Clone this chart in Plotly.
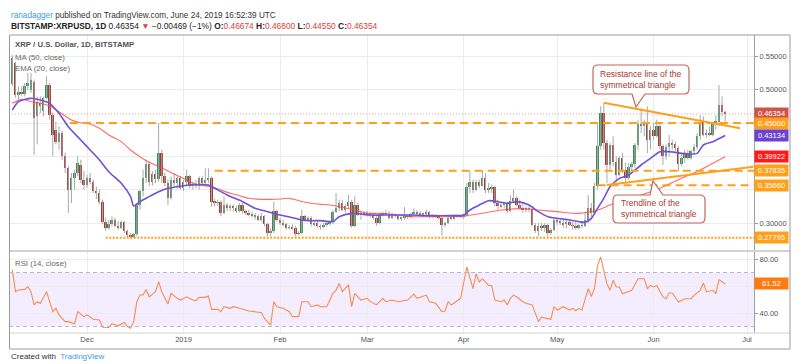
import plotly.graph_objects as go
import pandas as pd

# ---------------- data: BITSTAMP XRPUSD daily, 2018-11-07 .. 2019-06-24 ----------------
START_DATE = "2018-11-07"

opens = [
    # Nov
    .508, .540, .492, .497, .494, .505, .500, .512, .460, .480, .468, .487, .507, .462, .440, .422, .435, .400, .382, .350, .367, .375, .387, .365,
    # Dec
    .357, .367, .362, .348, .345, .332, .302, .293, .298, .305, .296, .293, .302, .288, .282, .2795, .283, .327, .348, .367, .388, .362, .373, .366, .405, .370, .360, .337, .365, .360, .367,
    # Jan
    .352, .362, .370, .355, .358, .355, .367, .360, .365, .367, .332, .330, .331, .315, .327, .322, .325, .322, .318, .327, .318, .315, .313, .310, .310, .305, .310, .298, .285, .288, .318,
    # Feb
    .304, .300, .298, .293, .294, .292, .284, .285, .310, .305, .308, .298, .300, .295, .294, .297, .299, .302, .317, .322, .330, .320, .326, .332, .296, .327, .312, .315,
    # Mar
    .313, .314, .312, .308, .300, .313, .315, .314, .308, .312, .311, .306, .308, .310, .309, .313, .317, .314, .312, .314, .316, .310, .311, .310, .307, .297, .300, .308, .306, .311, .310,
    # Apr
    .309, .312, .354, .362, .350, .361, .356, .368, .350, .352, .354, .330, .325, .327, .329, .318, .333, .337, .327, .322, .320, .322, .321, .297, .288, .295, .292, .297, .285, .290,
    # May
    .304, .302, .300, .298, .301, .297, .296, .293, .297, .296, .305, .322, .315, .355, .415, .465, .420, .387, .417, .392, .372, .397, .380, .367, .384, .388, .417, .449, .445, .450, .425,
    # Jun
    .440, .430, .445, .415, .400, .414, .420, .418, .412, .388, .398, .404, .398, .408, .414, .430, .452, .432, .435, .432, .450, .452, .477, .46674,
]
highs = [
    .552, .542, .505, .505, .510, .525, .525, .515, .490, .490, .490, .520, .510, .466, .452, .445, .438, .405, .385, .375, .380, .400, .395, .378,
    .372, .375, .365, .355, .350, .335, .308, .305, .310, .308, .303, .304, .303, .290, .285, .285, .330, .350, .380, .395, .392, .378, .380, .450, .410, .375, .365, .370, .375, .370, .370,
    .365, .380, .372, .362, .365, .370, .370, .382, .382, .370, .336, .335, .334, .340, .330, .328, .328, .326, .330, .330, .320, .320, .317, .315, .313, .315, .312, .300, .292, .332, .320,
    .308, .305, .300, .297, .298, .295, .288, .320, .312, .310, .310, .303, .304, .298, .300, .302, .304, .320, .345, .335, .335, .328, .342, .335, .340, .330, .318, .318,
    .318, .316, .315, .310, .315, .317, .320, .318, .315, .314, .312, .310, .324, .313, .315, .322, .319, .318, .316, .320, .318, .313, .313, .312, .309, .302, .310, .310, .313, .313, .312,
    .314, .360, .378, .365, .365, .365, .378, .375, .360, .358, .356, .335, .330, .332, .332, .342, .350, .340, .335, .330, .325, .326, .325, .300, .300, .300, .300, .299, .292, .307,
    .308, .306, .305, .303, .303, .302, .302, .298, .300, .317, .342, .330, .360, .450, .475, .480, .425, .420, .430, .400, .400, .405, .390, .390, .392, .420, .455, .472, .455, .475, .445,
    .450, .455, .450, .418, .418, .432, .425, .422, .415, .405, .410, .410, .410, .418, .435, .462, .460, .440, .445, .452, .462, .507, .490, .468,
]
lows = [
    .505, .488, .485, .490, .490, .500, .495, .402, .418, .465, .460, .485, .455, .400, .418, .410, .395, .375, .315, .330, .350, .370, .360, .350,
    .353, .358, .345, .336, .328, .298, .288, .290, .295, .294, .290, .291, .285, .278, .2775, .278, .280, .320, .340, .360, .355, .356, .360, .362, .360, .355, .327, .335, .355, .355, .350,
    .348, .355, .352, .350, .352, .350, .358, .357, .360, .325, .325, .326, .310, .313, .318, .318, .317, .315, .316, .314, .312, .310, .308, .305, .303, .302, .295, .280, .280, .285, .302,
    .297, .295, .290, .290, .290, .280, .281, .283, .302, .302, .295, .295, .293, .290, .292, .295, .296, .298, .315, .318, .318, .316, .322, .293, .294, .310, .305, .310,
    .310, .308, .305, .296, .298, .310, .312, .305, .306, .308, .304, .303, .305, .306, .307, .311, .312, .310, .309, .312, .307, .308, .308, .305, .281, .294, .298, .304, .305, .308, .307,
    .306, .309, .345, .345, .348, .352, .355, .345, .345, .345, .325, .320, .322, .322, .315, .316, .330, .325, .320, .315, .316, .316, .295, .285, .280, .288, .287, .280, .282, .288,
    .297, .297, .293, .292, .295, .290, .290, .290, .292, .294, .300, .305, .312, .350, .410, .410, .360, .380, .385, .362, .370, .375, .362, .365, .378, .383, .410, .435, .430, .405, .410,
    .425, .428, .410, .387, .395, .400, .410, .408, .378, .385, .390, .395, .395, .402, .410, .425, .430, .428, .430, .430, .440, .445, .460, .4455,
]
closes = [
    .548, .492, .497, .494, .505, .510, .515, .457, .482, .475, .487, .507, .462, .432, .422, .435, .400, .382, .350, .367, .375, .390, .365, .357,
    .367, .362, .348, .345, .332, .302, .293, .298, .305, .296, .293, .302, .288, .282, .2795, .283, .327, .348, .367, .388, .362, .373, .366, .405, .370, .360, .337, .365, .360, .367, .352,
    .362, .370, .355, .358, .355, .367, .360, .365, .367, .332, .330, .331, .315, .327, .322, .325, .322, .318, .327, .318, .315, .313, .310, .310, .305, .310, .298, .285, .288, .318, .304,
    .300, .298, .293, .294, .292, .284, .285, .310, .305, .308, .298, .300, .295, .294, .297, .299, .302, .317, .322, .330, .320, .326, .332, .296, .327, .312, .315, .313,
    .314, .312, .308, .300, .313, .315, .314, .308, .312, .311, .306, .308, .310, .309, .313, .317, .314, .312, .314, .316, .310, .311, .310, .307, .297, .300, .308, .306, .311, .310, .309,
    .312, .354, .362, .350, .361, .356, .368, .350, .352, .354, .330, .325, .327, .329, .318, .333, .337, .327, .322, .320, .322, .321, .297, .288, .295, .292, .297, .285, .290, .304,
    .302, .300, .298, .301, .297, .296, .293, .297, .296, .305, .322, .315, .355, .415, .465, .420, .387, .417, .392, .372, .397, .380, .367, .384, .388, .417, .449, .445, .450, .425, .440,
    .430, .445, .415, .400, .414, .420, .418, .412, .388, .398, .404, .398, .408, .414, .430, .452, .432, .435, .432, .450, .452, .477, .46674, .46354,
]

# MA(50) and EMA(20) (candle index -> value)
ma_idx = [0, 3, 6, 9, 12, 15, 19, 22, 25, 28, 31, 35, 38, 41, 44, 47, 50, 54, 57, 60, 64, 67, 70, 73, 76, 80, 83, 86, 89, 92,
          96, 99, 102, 105, 109, 112, 115, 118, 121, 125, 128, 134, 141, 145, 151, 157, 163, 169, 175, 182, 188, 192, 195, 202, 208, 215, 221, 225, 229]
ma_val = [.4795, .4855, .482, .4795, .4755, .467, .4545, .4505, .4485, .442, .432, .422, .4095, .3995, .391, .385, .378, .369, .362, .357,
          .3545, .3495, .3445, .341, .337, .3355, .3355, .336, .337, .3335, .3295, .328, .327, .3245, .3205, .317, .3145, .3145, .3135, .312,
          .3095, .3095, .3095, .3105, .3145, .3195, .3215, .3195, .317, .3145, .3195, .327, .332, .342, .352, .367, .3795, .3895, .39922]
ema_idx = [0, 2, 6, 9, 12, 15, 18, 22, 25, 28, 31, 35, 38, 39, 41, 44, 47, 50, 53, 57, 63, 65, 69, 74, 78, 82, 86, 90, 93, 96,
           99, 103, 105, 109, 112, 115, 121, 128, 134, 141, 145, 147, 150, 153, 156, 159, 162, 166, 169, 172, 175, 179, 182, 184, 186, 188, 190, 192, 195, 198,
           202, 205, 208, 211, 215, 218, 220, 222, 225, 229]
ema_val = [.4695, .482, .487, .4845, .4795, .4645, .4445, .4245, .4095, .3945, .377, .3595, .3395, .3255, .332, .3395, .347, .352, .3545, .357,
           .357, .352, .342, .332, .322, .317, .312, .308, .3045, .3035, .3035, .302, .3095, .3145, .3135, .312, .312, .312, .311, .311,
           .312, .3195, .327, .3335, .332, .3295, .332, .327, .317, .3095, .307, .3045, .302, .301, .307, .322, .337, .3545, .367, .372,
           .387, .397, .407, .407, .4045, .4035, .4045, .417, .422, .43134]

# RSI(14) (candle index -> value)
rsi_idx = [0, 1, 2, 4, 5, 6, 7, 8, 9, 11, 12, 13, 14, 15, 17, 18, 20, 21, 23, 24, 26, 28, 29, 31, 32, 34, 36, 37, 38, 39,
           40, 41, 42, 43, 44, 46, 47, 48, 50, 51, 53, 54, 56, 58, 59, 60, 62, 63, 64, 66, 67, 68, 70, 71, 73, 75, 76, 78, 80, 81,
           83, 84, 85, 87, 89, 90, 92, 93, 95, 96, 98, 99, 101, 103, 104, 105, 106, 108, 109, 110, 112, 114, 115, 117, 119, 120, 122, 124, 127, 129,
           130, 133, 134, 136, 138, 139, 140, 141, 143, 144, 146, 147, 148, 149, 150, 151, 153, 154, 155, 157, 158, 159, 160, 161, 162, 164, 165, 167, 168, 169,
           170, 172, 173, 174, 175, 177, 178, 179, 180, 181, 182, 183, 185, 186, 187, 188, 189, 190, 191, 192, 193, 194, 195, 196, 198, 199, 201, 203, 204, 205,
           206, 207, 209, 210, 211, 212, 214, 215, 216, 218, 219, 221, 222, 223, 225, 226, 227, 229]
rsi_val = [71.9, 55.8, 57, 57.5, 59.5, 55.8, 46, 48.4, 47, 55.8, 48.4, 41, 43.5, 38.6, 33.6, 33.6, 32, 41, 37.3, 38.6,
           35.4, 34.9, 29.5, 29.3, 32, 30.5, 33, 30, 28.8, 33.6, 48.4, 53.3, 53.3, 57.5, 52, 55.8, 63.2, 55.8, 46.7, 54.6,
           50.9, 49.6, 52, 49.6, 49.1, 51.6, 51.6, 52.6, 42.7, 42.7, 41, 44.7, 43.5, 44.7, 43.5, 42.2, 41.5, 41, 40.2, 36,
           31.1, 48.4, 44.7, 43.5, 41, 37.3, 37.3, 48.4, 48.4, 44.7, 46, 44.7, 44.7, 54.6, 57, 62, 55.8, 60.8, 44.7, 54.6,
           49.6, 50.9, 48.4, 46, 50.9, 48.4, 49.6, 48.4, 49.6, 54, 50.9, 53.3, 48.4, 47.2, 41, 41.5, 48.4, 46, 49.6, 50.9,
           74.1, 65.4, 58, 69.1, 63, 65.4, 60.4, 60.4, 49.6, 48.4, 49.6, 46, 50.9, 53.3, 52, 48.4, 47.2, 46, 39.8, 33.6,
           36.9, 35.6, 35.4, 44.7, 42.2, 44.7, 43.5, 42.2, 43.5, 41.7, 43.5, 42.2, 58, 52.3, 58, 75.3, 81.5, 71.6, 61.7, 56.8,
           64.2, 59.3, 59.3, 54.3, 55.6, 56.8, 65.4, 65.4, 58, 60.4, 59.3, 60.4, 51.9, 50.6, 54.8, 54.8, 48.1, 49.4, 50.6, 50.6,
           53.1, 56.8, 62.2, 55.6, 56.8, 54.3, 64.7, 61.52]

# horizontal levels and their start dates
level_prices = [0.45000, 0.37835, 0.35660, 0.27795]
level_starts = ["2018-11-25 12:00", "2019-01-11", "2019-05-14", "2018-12-07"]
last_price = 0.46354
ema_last, ma_last, rsi_last = 0.43134, 0.39922, 61.52

# triangle lines (date, price)
resist_line = [("2019-05-16", 0.4805), ("2019-06-28 19:00", 0.4420)]
support_line = [("2019-05-17", 0.3570), ("2019-07-03 02:00", 0.3845)]

month_ticks = ["2018-12-01", "2019-01-01", "2019-02-01", "2019-03-01", "2019-04-01", "2019-05-01", "2019-06-01", "2019-07-01"]
month_labels = ["Dec", "2019", "Feb", "Mar", "Apr", "May", "Jun", "Jul"]
price_ticks = [0.30, 0.35, 0.40, 0.45, 0.50, 0.55]
price_tick_text = ["0.30000", "", "", "", "0.50000", "0.55000"]   # others sit under the coloured labels
rsi_ticks = [40, 60, 80]
rsi_tick_text = ["40.00", "", "80.00"]

# ---------------- styling ----------------
FONT = "Liberation Sans, Arial, sans-serif"
UP, DOWN, WICK = "#3f8c5b", "#a53a30", "#a9a9a9"
ORANGE = "#ff9f1a"
GRID = "#ececec"
X_RANGE = ["2018-11-05 22:30", "2019-07-03 06:00"]

# pixel layout of the plot area (for paper-coordinate decorations)
PL, PR, PT, PB = 9, 754, 35, 333
def px(x):
    return (x - PL) / (PR - PL)
def py(y):
    return (PB - y) / (PB - PT)

n = min(len(opens), len(highs), len(lows), len(closes))
dates = pd.date_range(START_DATE, periods=n, freq="D")

fig = go.Figure()

# wicks
wx, wy = [], []
for i in range(n):
    wx += [dates[i], dates[i], None]
    wy += [lows[i], highs[i], None]
fig.add_trace(go.Scatter(x=wx, y=wy, mode="lines", line=dict(color=WICK, width=1),
                         xaxis="x2", yaxis="y", hoverinfo="skip", showlegend=False))

# bodies
base = [min(opens[i], closes[i]) for i in range(n)]
height = [max(abs(closes[i] - opens[i]), 0.0007) for i in range(n)]
cols = [UP if closes[i] >= opens[i] else DOWN for i in range(n)]
fig.add_trace(go.Bar(x=dates, y=height, base=base, width=0.62 * 86400000,
                     marker=dict(color=cols, line=dict(width=0)),
                     xaxis="x2", yaxis="y", showlegend=False, hoverinfo="skip"))

# MA / EMA
fig.add_trace(go.Scatter(x=[dates[i] for i in ma_idx], y=ma_val, mode="lines",
                         line=dict(color="rgba(255,70,70,0.8)", width=1.1, shape="spline", smoothing=0.7),
                         xaxis="x2", yaxis="y", showlegend=False))
fig.add_trace(go.Scatter(x=[dates[i] for i in ema_idx], y=ema_val, mode="lines",
                         line=dict(color="#7052d8", width=1.6, shape="spline", smoothing=0.7),
                         xaxis="x2", yaxis="y", showlegend=False))

# RSI
fig.add_trace(go.Scatter(x=[dates[i] for i in rsi_idx], y=rsi_val, mode="lines",
                         line=dict(color="#f88c52", width=1.1),
                         xaxis="x", yaxis="y2", showlegend=False))

shapes = []
# RSI band
shapes.append(dict(type="rect", xref="x domain", yref="y2", x0=0, x1=1, y0=30, y1=70,
                   fillcolor="rgba(150,80,255,0.10)", line=dict(width=0), layer="below"))
for lvl in (30, 70):
    shapes.append(dict(type="line", xref="x domain", yref="y2", x0=0, x1=1, y0=lvl, y1=lvl,
                       line=dict(color="#b9b6c6", width=1, dash="4px,3px")))
# last price dotted line
shapes.append(dict(type="line", xref="x domain", yref="y", x0=0, x1=1, y0=last_price, y1=last_price,
                   line=dict(color="rgba(220,90,80,0.55)", width=1, dash="1px,2px")))
# horizontal support/resistance levels
for p, s in zip(level_prices, level_starts):
    dash = "2px,1.5px" if p < 0.28 else "8px,5px"
    shapes.append(dict(type="line", xref="x", yref="y", x0=s, x1=X_RANGE[1], y0=p, y1=p,
                       line=dict(color=ORANGE, width=2, dash=dash)))
# triangle lines
for ln in (resist_line, support_line):
    shapes.append(dict(type="line", xref="x", yref="y", x0=ln[0][0], y0=ln[0][1], x1=ln[1][0], y1=ln[1][1],
                       line=dict(color=ORANGE, width=2)))

# callout bubbles (pixel geometry -> paper)
def bubble(x0, y0, x1, y1, tail, r=5):
    tb0, tb1, tx, ty, side = tail
    def P(x, y):
        return f"{px(x):.5f},{py(y):.5f}"
    d = f"M {P(x0 + r, y0)} "
    if side == "top":
        d += f"L {P(tb0, y0)} L {P(tx, ty)} L {P(tb1, y0)} "
    d += f"L {P(x1 - r, y0)} Q {P(x1, y0)} {P(x1, y0 + r)} L {P(x1, y1 - r)} Q {P(x1, y1)} {P(x1 - r, y1)} "
    if side == "bottom":
        d += f"L {P(tb1, y1)} L {P(tx, ty)} L {P(tb0, y1)} "
    d += f"L {P(x0 + r, y1)} Q {P(x0, y1)} {P(x0, y1 - r)} L {P(x0, y0 + r)} Q {P(x0, y0)} {P(x0 + r, y0)} Z"
    return dict(type="path", xref="paper", yref="paper", path=d,
                fillcolor="white", line=dict(color="#c5655c", width=1.2), layer="above")

shapes.append(bubble(593, 65, 689, 94, (632, 645, 636, 107, "bottom")))
shapes.append(bubble(613, 195, 705, 223, (650, 663, 653, 181, "top")))

# pane separator, borders
shapes.append(dict(type="line", xref="paper", yref="paper", x0=0, x1=px(790), y0=py(251), y1=py(251),
                   line=dict(color="#d2d2d2", width=2)))
shapes.append(dict(type="line", xref="paper", yref="paper", x0=0, x1=px(790), y0=0, y1=0,
                   line=dict(color="#d2d2d2", width=1)))
shapes.append(dict(type="rect", xref="paper", yref="paper", x0=px(9.5), x1=px(790), y0=py(349), y1=py(35),
                   line=dict(color="#9a9a9a", width=1), fillcolor="rgba(0,0,0,0)"))

ann = []
def text(x, y, t, size=8, color="#333", anchor="left", **kw):
    ann.append(dict(xref="paper", yref="paper", x=px(x), y=py(y), text=t, showarrow=False,
                    xanchor=anchor, yanchor="middle", font=dict(family=FONT, size=size, color=color), **kw))

RED = "#e0403a"
text(9, 15, "<span style='color:#3d9be9'>ranadagger</span> published on TradingView.com, June 24, 2019 16:52:39 UTC", 8.2, "#333")
text(9, 26, "<b>BITSTAMP:XRPUSD, 1D</b> 0.46354 <span style='color:%s'>▼</span> −0.00469 (−1%%) "
            "<b>O:</b><span style='color:%s'>0.46674</span> <b>H:</b><span style='color:%s'>0.46800</span> "
            "<b>L:</b><span style='color:%s'>0.44550</span> <b>C:</b><span style='color:%s'>0.46354</span>"
     % (RED, RED, RED, RED, RED), 8.4, "#222")
text(13, 45, "<b>XRP / U.S. Dollar, 1D, BITSTAMP</b>", 7.8, "#555")
text(13, 57, "MA (50, close)", 7.8, "#666")
text(13, 68, "EMA (20, close)", 7.8, "#666")
text(13, 263, "RSI (14, close)", 7.8, "#666")
text(9, 357, "Created with  <span style='color:#3d9be9'>TradingView</span>", 8, "#333")

text(598, 79.5, "Resistance line of the<br>symmetrical triangle", 8.5, "#a83a30", align="left")
text(619, 209, "Trendline of the<br>symmetrical triangle", 8.5, "#a83a30", align="left")

# axis price labels
def plabel(yval, t, bg, yref="y"):
    ann.append(dict(xref="paper", yref=yref, x=1, y=yval, text=t, showarrow=False, xanchor="left",
                    yanchor="middle", bgcolor=bg, width=31, height=9, borderpad=1,
                    font=dict(family=FONT, size=7.5, color="white")))

plabel(last_price, "%.5f" % last_price, "#cf5447")
for p in level_prices:
    plabel(p, "%.5f" % p, ORANGE)
plabel(ema_last, "%.5f" % ema_last, "#6a43d2")
plabel(ma_last, "%.5f" % ma_last, "#ff1a1a")
plabel(rsi_last, "%.2f" % rsi_last, "#ff7a10", yref="y2")

axis_font = dict(family=FONT, size=7.5, color="#555")
fig.update_layout(
    width=800, height=364,
    margin=dict(l=PL, r=800 - PR, t=PT, b=364 - PB, pad=0),
    paper_bgcolor="white", plot_bgcolor="white",
    showlegend=False, bargap=0,
    font=dict(family=FONT),
    xaxis=dict(domain=[0, 1], anchor="y2", type="date", range=X_RANGE,
               tickvals=month_ticks, ticktext=month_labels, tickfont=axis_font,
               showgrid=True, gridcolor=GRID, zeroline=False, ticks="", showline=False),
    xaxis2=dict(domain=[0, 1], anchor="y", matches="x", type="date", showticklabels=False,
                showgrid=True, gridcolor=GRID, zeroline=False, ticks="", tickvals=month_ticks),
    yaxis=dict(domain=[py(250), 1], anchor="x2", side="right", range=[0.2595, 0.582],
               tickvals=price_ticks, ticktext=price_tick_text, tickfont=axis_font,
               showgrid=True, gridcolor=GRID, zeroline=False, ticks="outside", ticklen=3,
               tickcolor="#999", showline=True, linecolor="#a0a0a0"),
    yaxis2=dict(domain=[0, py(252)], anchor="x", side="right", range=[25.2, 85.2],
                tickvals=rsi_ticks, ticktext=rsi_tick_text, tickfont=axis_font,
                showgrid=True, gridcolor=GRID, zeroline=False, ticks="outside", ticklen=3,
                tickcolor="#999", showline=True, linecolor="#a0a0a0"),
    shapes=shapes, annotations=ann,
)

fig.write_html("out.html", config={"displayModeBar": False},
               post_script="document.body.style.margin='0';document.body.style.overflow='hidden';")
